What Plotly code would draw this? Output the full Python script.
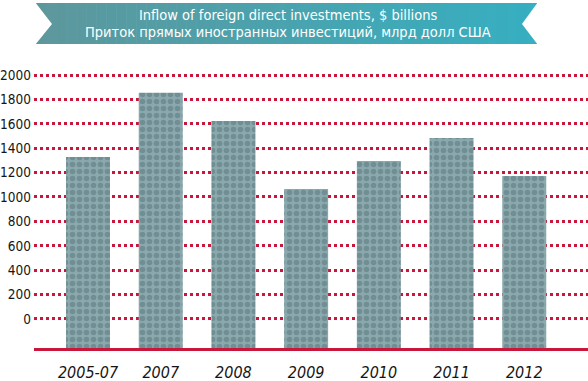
import plotly.graph_objects as go

# ---- data ----
categories = ["2005-07", "2007", "2008", "2009", "2010", "2011", "2012"]
values = [1328, 1855, 1623, 1066, 1295, 1484, 1172]
y_ticks = [0, 200, 400, 600, 800, 1000, 1200, 1400, 1600, 1800, 2000]
title_en = "Inflow of foreign direct investments, $ billions"
title_ru = "Приток прямых иностранных инвестиций, млрд долл США"

# ---- style ----
W, H = 588, 381
FONT = "DejaVu Sans Condensed, Liberation Sans Narrow, Arial Narrow, sans-serif"
RED = "#c8173b"
Y_MIN, Y_MAX = -238, 2041
BAR_FLOOR = Y_MIN


def px(x):
    return x / W


def py(y):
    return 1 - y / H


fig = go.Figure()

fig.add_trace(go.Bar(
    x=categories,
    y=[v - BAR_FLOOR for v in values],
    base=BAR_FLOOR,
    width=0.605,
    marker=dict(
        color="#83a3a7",
        line=dict(width=0),
        pattern=dict(shape=".", fgcolor="#557479", bgcolor="#8aa9ad",
                     size=7, solidity=0.5),
    ),
    hoverinfo="skip",
))

# banner decoration: gradient strips, then white notches
shapes = []
c0 = (0x5d, 0x97, 0x9c)
c1 = (0x36, 0xaf, 0xc1)
N = 50
x0b, x1b = 36, 537
for i in range(N):
    t = (i + 0.5) / N
    col = "rgb(%d,%d,%d)" % tuple(round(a + (b - a) * t) for a, b in zip(c0, c1))
    xa = x0b + (x1b - x0b) * i / N
    xb = x0b + (x1b - x0b) * (i + 1) / N + 0.6
    shapes.append(dict(type="rect", xref="paper", yref="paper",
                       x0=px(xa), x1=px(min(xb, x1b)), y0=py(44), y1=py(3),
                       fillcolor=col, line=dict(width=0), layer="above"))
for pts in ([(35, 2), (52, 24), (35, 45)], [(538, 2), (522, 24), (538, 45)]):
    path = "M " + " L ".join("%f,%f" % (px(a), py(b)) for a, b in pts) + " Z"
    shapes.append(dict(type="path", xref="paper", yref="paper", path=path,
                       fillcolor="white", line=dict(width=0), layer="above"))

for txt, yc in ((title_en, 14.5), (title_ru, 32)):
    fig.add_annotation(
        xref="paper", yref="paper", x=px(288), y=py(yc),
        text=txt, showarrow=False,
        font=dict(family=FONT, size=14.5, color="white"), align="center",
        xanchor="center", yanchor="middle",
    )

fig.update_layout(
    width=W, height=H,
    margin=dict(l=0, r=0, t=0, b=0, pad=0),
    paper_bgcolor="white", plot_bgcolor="white",
    showlegend=False,
    shapes=shapes,
    font=dict(family=FONT, color="#151515"),
    xaxis=dict(
        domain=[34 / W, 1], range=[-0.743, 6.877], type="category",
        automargin=False,
        showgrid=False, zeroline=False,
        showline=True, linecolor=RED, linewidth=2.5,
        ticks="", ticklabelstandoff=8,
        tickfont=dict(family=FONT, size=16, color="#151515", style="italic"),
    ),
    yaxis=dict(
        domain=[33 / H, 311 / H], range=[Y_MIN, Y_MAX],
        automargin=False,
        tickvals=y_ticks, ticktext=[str(t) for t in y_ticks],
        showgrid=True, gridcolor=RED, gridwidth=3, griddash="dot",
        zeroline=False, showline=False, ticks="", ticklabelstandoff=2,
        tickfont=dict(family=FONT, size=13.5, color="#151515"),
    ),
    bargap=0.395,
)

fig.write_html(
    "out.html",
    config={"displayModeBar": False},
    post_script="document.body.style.margin='0px';document.body.style.padding='0px';",
)
